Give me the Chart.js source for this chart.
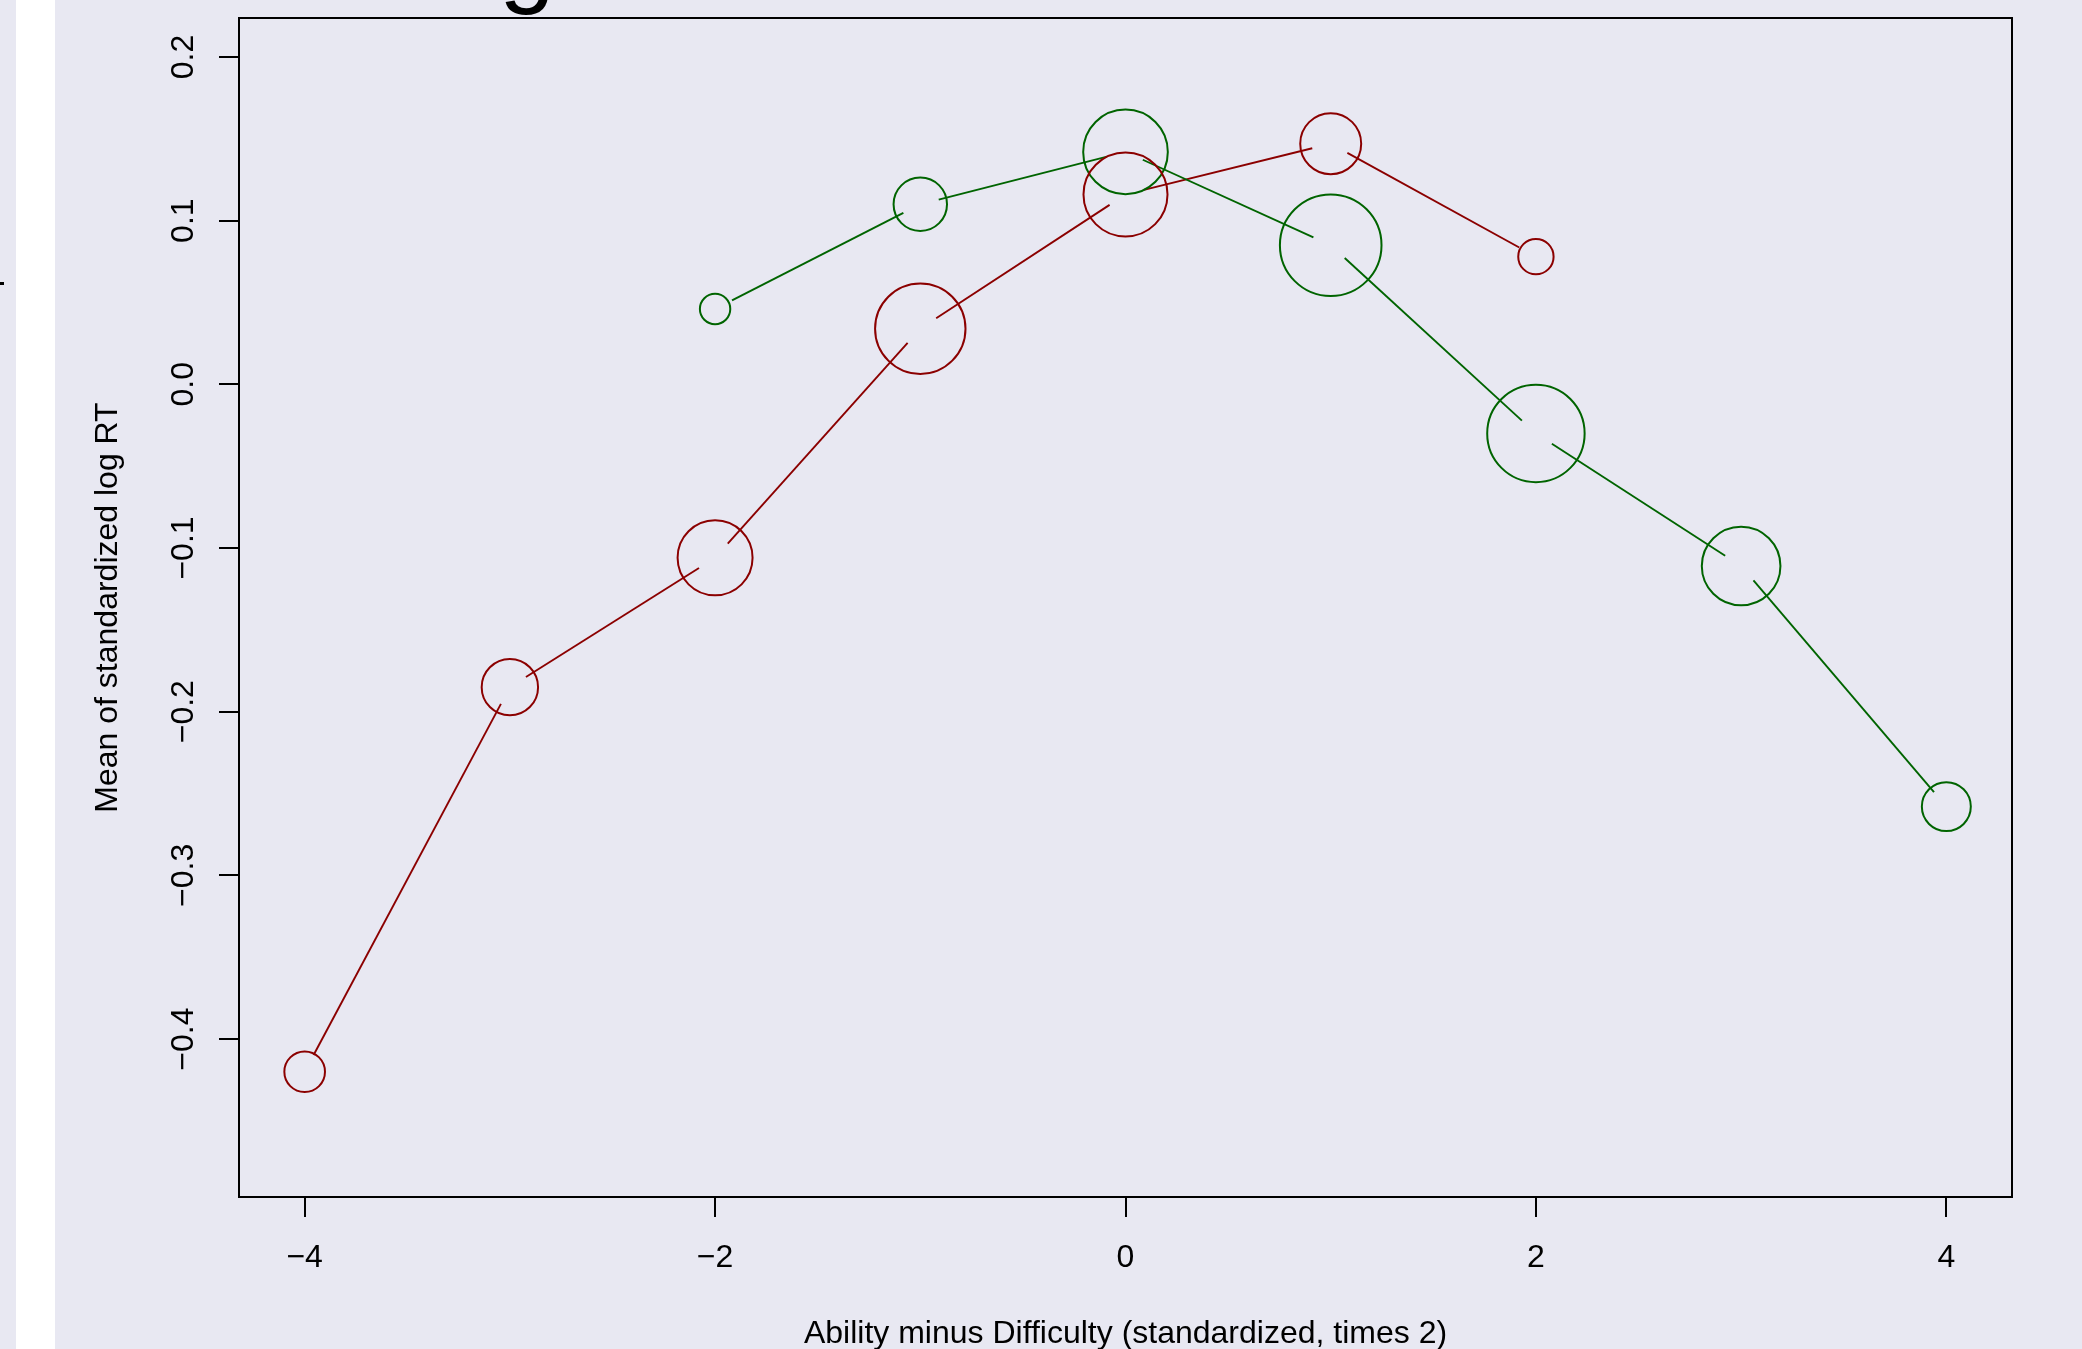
<!DOCTYPE html>
<html>
<head>
<meta charset="utf-8">
<title>Mean of standardized log RT</title>
<script src="https://cdn.jsdelivr.net/npm/chart.js@4/dist/chart.umd.min.js"></script>
<style>
  html, body { margin: 0; padding: 0; background: #e8e8f2; overflow: hidden; }
  #wrap { position: relative; width: 2082px; height: 1349px; }
  #strip { position: absolute; left: 16px; top: 0; width: 39px; height: 1349px; background: #ffffff; }
  #dash { position: absolute; left: 0; top: 282px; width: 4px; height: 3px; background: #000; }
  #plot { position: absolute; left: 0; top: 0; }
</style>
</head>
<body>
<div id="wrap">
  <div id="strip"></div>
  <div id="dash"></div>
  <canvas id="plot" width="2082" height="1349"></canvas>
</div>
<script>
// Group means of standardized log response time by (ability - difficulty) bin
const redX = [-4, -3, -2, -1, 0, 1, 2];
const redY = [-0.420, -0.185, -0.106, 0.034, 0.116, 0.147, 0.078];
const redWeight = [0.40, 0.555, 0.738, 0.89, 0.827, 0.60, 0.348];

const greenX = [-2, -1, 0, 1, 2, 3, 4];
const greenY = [0.046, 0.110, 0.142, 0.085, -0.030, -0.111, -0.258];
const greenWeight = [0.299, 0.526, 0.833, 1.0, 0.959, 0.774, 0.482];

const xTickValues = [-4, -2, 0, 2, 4];
const xTickLabels = ['\u22124', '\u22122', '0', '2', '4'];
const yTickValues = [0.2, 0.1, 0.0, -0.1, -0.2, -0.3, -0.4];
const yTickLabels = ['0.2', '0.1', '0.0', '\u22120.1', '\u22120.2', '\u22120.3', '\u22120.4'];

const xTitle = 'Ability minus Difficulty (standardized, times 2)';
const yTitle = 'Mean of standardized log RT';
const headFragment = 'g';

const RED = '#8b0000';
const GREEN = '#006400';
const FONT = '"Liberation Sans", Arial, Helvetica, sans-serif';
const MAX_RADIUS = 50.8;   // radius of the largest symbol, px
const LINE_GAP = 19;       // gap left around each point by the connecting lines, px

function toPoints(xs, ys) {
  return xs.map((x, i) => ({ x: x, y: ys[i] }));
}

// Connecting lines that stop short of each point (as with type = "b")
const gappedLines = {
  id: 'gappedLines',
  beforeDatasetsDraw(chart) {
    const ctx = chart.ctx;
    const area = chart.chartArea;
    ctx.save();
    ctx.beginPath();
    ctx.rect(area.left, area.top, area.right - area.left, area.bottom - area.top);
    ctx.clip();
    chart.data.datasets.forEach((ds, i) => {
      const pts = chart.getDatasetMeta(i).data;
      ctx.strokeStyle = ds.borderColor;
      ctx.lineWidth = 1.9;
      ctx.lineCap = 'butt';
      for (let k = 0; k < pts.length - 1; k++) {
        const p = pts[k], q = pts[k + 1];
        const dx = q.x - p.x, dy = q.y - p.y;
        const len = Math.hypot(dx, dy);
        if (len <= 2 * LINE_GAP) continue;
        const ux = dx / len, uy = dy / len;
        ctx.beginPath();
        ctx.moveTo(p.x + ux * LINE_GAP, p.y + uy * LINE_GAP);
        ctx.lineTo(q.x - ux * LINE_GAP, q.y - uy * LINE_GAP);
        ctx.stroke();
      }
    });
    ctx.restore();
  }
};

// Plot frame, tick labels, axis titles
const frameAndText = {
  id: 'frameAndText',
  afterDraw(chart) {
    const ctx = chart.ctx;
    const a = chart.chartArea;
    const xs = chart.scales.x, ys = chart.scales.y;
    ctx.save();
    ctx.strokeStyle = '#000';
    ctx.lineWidth = 2;
    ctx.strokeRect(a.left, a.top, a.right - a.left, a.bottom - a.top);

    ctx.fillStyle = '#000';
    ctx.font = '32px ' + FONT;
    ctx.textAlign = 'center';
    ctx.textBaseline = 'alphabetic';
    xTickValues.forEach((v, i) => {
      ctx.fillText(xTickLabels[i], xs.getPixelForValue(v), a.bottom + 70);
    });
    yTickValues.forEach((v, i) => {
      ctx.save();
      ctx.translate(a.left - 46, ys.getPixelForValue(v));
      ctx.rotate(-Math.PI / 2);
      ctx.fillText(yTickLabels[i], 0, 0);
      ctx.restore();
    });

    ctx.fillText(xTitle, (a.left + a.right) / 2, a.bottom + 146);
    ctx.save();
    ctx.translate(a.left - 122, (a.top + a.bottom) / 2);
    ctx.rotate(-Math.PI / 2);
    ctx.fillText(yTitle, 0, 0);
    ctx.restore();

    // heading text sitting above the page edge; only its descender shows
    ctx.font = '100px ' + FONT;
    ctx.fillText(headFragment, 527, -6);
    ctx.restore();
  }
};

const ticksFrom = (values) => (scale) => {
  scale.ticks = values.map(v => ({ value: v }));
};

new Chart(document.getElementById('plot'), {
  type: 'scatter',
  data: {
    datasets: [
      {
        label: 'red',
        data: toPoints(redX, redY),
        borderColor: RED,
        backgroundColor: 'rgba(0,0,0,0)',
        pointRadius: redWeight.map(w => w * MAX_RADIUS),
        pointBorderWidth: 2,
        pointBorderColor: RED,
        pointBackgroundColor: 'rgba(0,0,0,0)',
        showLine: false
      },
      {
        label: 'green',
        data: toPoints(greenX, greenY),
        borderColor: GREEN,
        backgroundColor: 'rgba(0,0,0,0)',
        pointRadius: greenWeight.map(w => w * MAX_RADIUS),
        pointBorderWidth: 2,
        pointBorderColor: GREEN,
        pointBackgroundColor: 'rgba(0,0,0,0)',
        showLine: false
      }
    ]
  },
  options: {
    responsive: false,
    animation: false,
    events: [],
    devicePixelRatio: 1,
    layout: { autoPadding: false, padding: { left: 0, top: 18, right: 70, bottom: 0 } },
    plugins: {
      legend: { display: false },
      tooltip: { enabled: false },
      title: { display: false }
    },
    scales: {
      x: {
        type: 'linear',
        min: -4.32,
        max: 4.32,
        afterBuildTicks: ticksFrom(xTickValues),
        afterFit(scale) { scale.height = 152; },
        ticks: { display: false },
        border: { display: false },
        grid: {
          display: true,
          drawOnChartArea: false,
          drawTicks: true,
          tickLength: 20,
          color: '#000',
          lineWidth: 2
        }
      },
      y: {
        type: 'linear',
        min: -0.4965,
        max: 0.2238,
        afterBuildTicks: ticksFrom(yTickValues),
        afterFit(scale) { scale.width = 239; },
        ticks: { display: false },
        border: { display: false },
        grid: {
          display: true,
          drawOnChartArea: false,
          drawTicks: true,
          tickLength: 20,
          color: '#000',
          lineWidth: 2
        }
      }
    }
  },
  plugins: [gappedLines, frameAndText]
});
</script>
</body>
</html>
